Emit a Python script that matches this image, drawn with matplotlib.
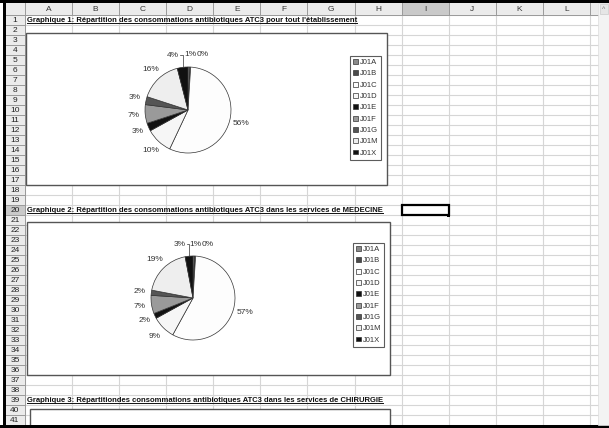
import matplotlib
matplotlib.use("Agg")
import matplotlib.pyplot as plt
from matplotlib.patches import Rectangle
import numpy as np

W, H = 609, 428

# data
codes = ["J01A", "J01B", "J01C", "J01D", "J01E", "J01F", "J01G", "J01M", "J01X"]
etab = [0.7, 0.3, 56, 10, 3, 7, 3, 16, 4]
medecine = [0.6, 0.4, 57, 9, 2, 7, 2, 19, 3]
slice_colors = ["#8a8a8a", "#4a4a4a", "#fdfdfd", "#f6f6f6", "#111111",
                "#9a9a9a", "#555555", "#eeeeee", "#111111"]
col_letters = ["A", "B", "C", "D", "E", "F", "G", "H", "I", "J", "K", "L"]
titles = {
    1: "Graphique 1: Répartition des consommations antibiotiques ATC3 pour tout l'établissement",
    20: "Graphique 2: Répartition des consommations antibiotiques ATC3 dans les services de MEDECINE",
    39: "Graphique 3: Répartitiondes consommations antibiotiques ATC3 dans les services de CHIRURGIE",
}

plt.rcParams['font.family'] = ['Liberation Sans', 'DejaVu Sans']

fig = plt.figure(figsize=(W / 100, H / 100), dpi=100)
bg = fig.add_axes([0, 0, 1, 1])
bg.set_xlim(0, W)
bg.set_ylim(H, 0)
bg.axis("off")

x0 = 25
cw = 47.08
row_top = 15
rh = 10
grid_c = "#d6d6d6"

# cell grid
for i in range(13):
    x = x0 + i * cw
    bg.plot([x, x], [row_top, 425], color=grid_c, lw=0.8, zorder=1)
for k in range(42):
    y = row_top + k * rh
    bg.plot([x0, 598], [y, y], color=grid_c, lw=0.8, zorder=1)

# headers
bg.add_patch(Rectangle((5, 3), 593, row_top - 3, fc="#ebebeb", ec="none", zorder=2))
bg.add_patch(Rectangle((5, row_top), x0 - 5, 425 - row_top, fc="#ebebeb", ec="none", zorder=2))
bg.add_patch(Rectangle((x0 + 8 * cw, 3), cw, row_top - 3, fc="#c9c9c9", ec="none", zorder=2))
bg.add_patch(Rectangle((5, row_top + 19 * rh), x0 - 5, rh, fc="#c9c9c9", ec="none", zorder=2))
for i in range(13):
    x = x0 + i * cw
    bg.plot([x, x], [3, row_top], color="#9a9a9a", lw=0.7, zorder=3)
bg.plot([5, 598], [row_top, row_top], color="#9a9a9a", lw=0.7, zorder=3)
bg.plot([x0, x0], [row_top, 425], color="#9a9a9a", lw=0.7, zorder=3)
for k in range(42):
    y = row_top + k * rh
    bg.plot([5, x0], [y, y], color="#9a9a9a", lw=0.7, zorder=3)
for i, c in enumerate(col_letters):
    bg.text(x0 + (i + 0.5) * cw, 9.5, c, ha="center", va="center", fontsize=6, color="#333", zorder=4)
for k in range(1, 42):
    bg.text(15, row_top + (k - 0.5) * rh, str(k), ha="center", va="center", fontsize=6, color="#222", zorder=4)

# window frame
bg.add_patch(Rectangle((0, 0), W, 3, fc="black", ec="none", zorder=5))
bg.add_patch(Rectangle((3, 0), 2.5, H, fc="black", ec="none", zorder=5))
bg.add_patch(Rectangle((0, 425), W, 3, fc="black", ec="none", zorder=5))
bg.add_patch(Rectangle((598, 3), 11, 422, fc="#f3f3f3", ec="#dddddd", lw=0.5, zorder=5))
bg.add_patch(Rectangle((600, 4), 8, 10, fc="#e6e6e6", ec="#cccccc", lw=0.5, zorder=6))
bg.text(604, 9, "^", ha="center", va="center", fontsize=5, color="#777", zorder=7)

# selected cell I20
bg.add_patch(Rectangle((x0 + 8 * cw, row_top + 19 * rh), cw, rh, fc="none", ec="black", lw=1.6, zorder=6))
bg.add_patch(Rectangle((x0 + 9 * cw - 1.5, row_top + 20 * rh - 1.5), 3, 3, fc="black", ec="none", zorder=7))

# titles, underlined
fig.canvas.draw()
rend = fig.canvas.get_renderer()
for row, t in titles.items():
    txt = bg.text(27, row_top + (row - 0.5) * rh, t, ha="left", va="center", fontsize=5.5,
                  fontweight="bold", color="#111", zorder=4)
    bb = txt.get_window_extent(renderer=rend)
    xa, _ = bg.transData.inverted().transform((bb.x0, 0))
    xb, _ = bg.transData.inverted().transform((bb.x1, 0))
    yl = row_top + (row - 0.5) * rh + 3.4
    bg.plot([xa, xb], [yl, yl], color="#111", lw=0.7, zorder=4)

# chart frames
bg.add_patch(Rectangle((26, 33), 361, 152, fc="white", ec="#555", lw=1.0, zorder=4))
bg.add_patch(Rectangle((27, 222), 363, 153, fc="white", ec="#555", lw=1.0, zorder=4))
bg.add_patch(Rectangle((30, 409), 360, 30, fc="white", ec="#555", lw=1.0, zorder=4))


def pie_chart(cx, cy, r, values, leg_x, leg_y):
    ax = fig.add_axes([(cx - r) / W, 1 - (cy + r) / H, 2 * r / W, 2 * r / H])
    wedges, _, autotexts = ax.pie(values, colors=slice_colors, startangle=90, counterclock=False,
                                  autopct="%.0f%%", pctdistance=1.28,
                                  wedgeprops=dict(edgecolor="#333", linewidth=0.5),
                                  textprops=dict(fontsize=6, color="#333"))
    ax.set_xlim(-1, 1)
    ax.set_ylim(-1, 1)
    # small slices at the top: labels pushed aside, like Excel does
    _, ly = autotexts[0].get_position()
    autotexts[0].set_position((0.06, ly))
    autotexts[1].set_position((0.34, ly))
    lx, ly = autotexts[-1].get_position()
    autotexts[-1].set_position((lx - 0.2, ly))
    w = wedges[-1]
    th = np.deg2rad((w.theta1 + w.theta2) / 2)
    mx = np.cos(th)
    ax.plot([lx - 0.03, mx, mx], [ly, ly, np.sin(th)], color="#333", lw=0.5, clip_on=False)
    fig.legend(wedges, codes, loc="upper left", bbox_to_anchor=(leg_x / W, 1 - leg_y / H),
               fontsize=5.5, frameon=True, fancybox=False, edgecolor="#333",
               handlelength=0.6, handleheight=0.6, handletextpad=0.3, labelspacing=0.55,
               borderpad=0.4, borderaxespad=0, labelcolor="#333").get_frame().set_linewidth(0.8)


pie_chart(188, 110, 43, etab, 350, 56)
pie_chart(193, 298, 42, medecine, 353, 243)

fig.savefig("out.png", dpi=100)
